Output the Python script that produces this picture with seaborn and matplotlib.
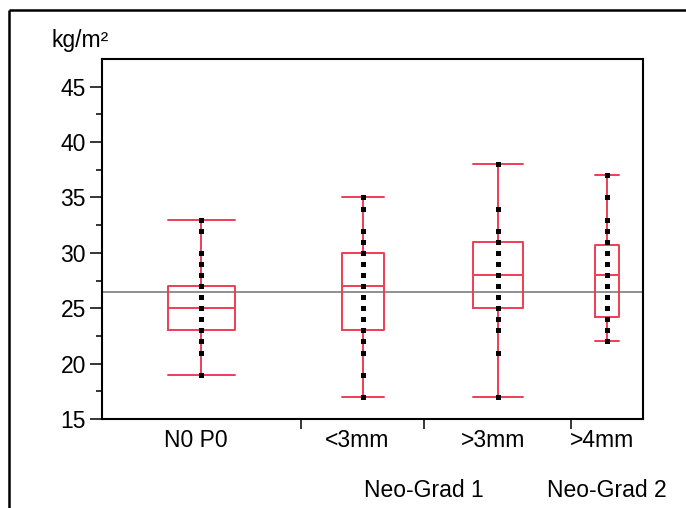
import numpy as np
import pandas as pd
import matplotlib
matplotlib.use("Agg")
import matplotlib.pyplot as plt
import matplotlib.transforms as mtransforms
from matplotlib.lines import Line2D
import seaborn as sns

# ---- data (BMI, kg/m²) ----
groups = ["N0 P0", "<3mm", ">3mm", ">4mm"]
n0p0_values = [19, 21, 22, 23, 24, 25, 26, 27, 28, 29, 30, 32, 33]
n0p0_counts = [1, 2, 4, 7, 6, 7, 5, 7, 4, 3, 2, 1, 1]
lt3_values = [17, 19, 21, 22, 23, 24, 25, 26, 27, 28, 29, 30, 31, 32, 34, 35]
lt3_counts = [1, 1, 1, 2, 4, 2, 2, 2, 2, 2, 2, 3, 2, 2, 2, 1]
gt3_values = [17, 21, 23, 24, 25, 26, 27, 28, 29, 30, 31, 32, 34, 38]
gt3_counts = [1, 1, 2, 3, 4, 3, 3, 4, 2, 3, 3, 3, 3, 2]
gt4_values = [22, 23, 24, 25, 26, 27, 28, 29, 30, 31, 32, 33, 35, 37]
gt4_counts = [1, 1, 3, 1, 1, 1, 2, 1, 2, 1, 1, 1, 1, 1]
grand_mean = 26.45
yticks = [15, 20, 25, 30, 35, 40, 45]
grade_labels = ["Neo-Grad 1", "Neo-Grad 2"]
unit_label = "kg/m²"

samples = [
    np.repeat(n0p0_values, n0p0_counts),
    np.repeat(lt3_values, lt3_counts),
    np.repeat(gt3_values, gt3_counts),
    np.repeat(gt4_values, gt4_counts),
]

RED = "#ee3d57"
FONT = "Liberation Sans"
FS = 16.5

sns.set_theme(style="white")
plt.rcParams["font.family"] = [FONT, "DejaVu Sans"]

fig = plt.figure(figsize=(6.86, 5.08), dpi=100)
fig.patch.set_linewidth(0)
ax = fig.add_axes([102 / 686, 1 - 419 / 508, 541 / 686, 360 / 508])

sizes = np.array([len(s) for s in samples])
bounds = np.concatenate([[0], np.cumsum(sizes)])
centers = (bounds[:-1] + bounds[1:]) / 2
total = bounds[-1]

for s, c, n in zip(samples, centers, sizes):
    df = pd.DataFrame({"pos": np.full(len(s), c, dtype=float), "bmi": s})
    w = 0.34 * n
    sns.boxplot(data=df, x="pos", y="bmi", native_scale=True, width=w,
                fill=False, color=RED, linewidth=1.4, whis=(0, 100),
                showfliers=False, ax=ax)
    sns.stripplot(data=df, x="pos", y="bmi", native_scale=True, jitter=False,
                  color="black", marker="s", size=3.6, linewidth=0, ax=ax,
                  zorder=5)

# stretch caps to full box width
for line in ax.lines:
    xd = np.asarray(line.get_xdata(), dtype=float)
    yd = np.asarray(line.get_ydata(), dtype=float)
    if len(xd) == 2 and yd[0] == yd[1] and xd[0] != xd[1]:
        mid = xd.mean()
        idx = int(np.argmin(np.abs(centers - mid)))
        half = 0.17 * sizes[idx]
        sm = samples[idx]
        if yd[0] in (sm.min(), sm.max()):
            line.set_xdata([mid - half, mid + half])
    if line.get_marker() in (None, "None", ""):
        line.set_color(RED)

ax.axhline(grand_mean, color="#8f8f8f", linewidth=1.4, zorder=1)

ax.set_xlim(0, total)
ax.set_ylim(15, 47.5)
ax.set_xlabel("")
ax.set_ylabel("")

# y ticks
ax.set_yticks(yticks)
ax.set_yticks(np.arange(17.5, 47.5, 5), minor=True)
ax.tick_params(axis="y", which="major", direction="out", length=8.5, width=1.1,
               color="black", labelsize=FS, pad=3, left=True)
ax.tick_params(axis="y", which="minor", direction="out", length=4.3, width=1.1,
               color="black", left=True)

# x ticks: boundaries (major, no labels), group labels (minor, no tick)
ax.set_xticks(bounds[1:-1])
ax.set_xticklabels([""] * (len(bounds) - 2))
ax.set_xticks(centers - 1.3, minor=True)
ax.set_xticklabels(groups, minor=True)
ax.tick_params(axis="x", which="major", direction="out", length=7.2, width=1.1,
               color="black", bottom=True)
ax.tick_params(axis="x", which="minor", length=0, labelsize=FS, pad=7.5)
for lab in ax.get_xticklabels(minor=True) + ax.get_yticklabels():
    lab.set_fontfamily([FONT, "DejaVu Sans"])
    lab.set_color("black")

for sp in ax.spines.values():
    sp.set_visible(True)
    sp.set_color("black")
    sp.set_linewidth(1.5)

# grade labels under the axis
trans = mtransforms.blended_transform_factory(ax.transData, fig.transFigure)
ax.text(bounds[2], 1 - 497 / 508, grade_labels[0], transform=trans,
        ha="center", va="baseline", fontsize=FS, color="black")
ax.text(centers[3], 1 - 497 / 508, grade_labels[1], transform=trans,
        ha="center", va="baseline", fontsize=FS, color="black")

# unit label
fig.text(80 / 686, 1 - 47 / 508, unit_label, ha="center", va="baseline",
         fontsize=FS, color="black")

# outer frame: only top and left edges fall inside the image
fx, fy = 9 / 686, 1 - 10 / 508
fig.add_artist(Line2D([fx, fx], [0, fy], transform=fig.transFigure,
                      color="black", linewidth=1.8, solid_capstyle="butt"))
fig.add_artist(Line2D([fx, 1.0], [fy, fy], transform=fig.transFigure,
                      color="black", linewidth=1.8, solid_capstyle="butt"))

fig.savefig("out.png", dpi=100)
